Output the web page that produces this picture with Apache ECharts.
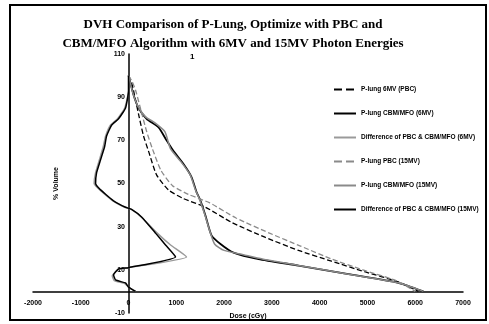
<!DOCTYPE html>
<html>
<head>
<meta charset="utf-8">
<script src="https://cdn.jsdelivr.net/npm/echarts@6/dist/echarts.min.js"></script>
<style>
  html, body { margin: 0; padding: 0; background: #fff; }
  #chart { width: 489px; height: 324px; }
</style>
</head>
<body>
<div id="chart"></div>
<script>
// tick labels
var doseMin = -2000, doseMax = 7000, doseStep = 1000;
var volTickLabels = [-10, 10, 30, 50, 70, 90, 110];

// series values (dose in cGy, volume in %)
var pbc6Dose = [0, 60, 105, 210, 314, 418, 586, 837, 1150, 1610, 2155, 2866, 3556, 4247, 4958, 5648, 6067];
var pbc6Vol = [100, 97, 93, 82, 72, 65, 54, 47, 43, 39, 32, 25, 19, 14, 9, 4.4, 0];

var cbm6Dose = [0, 105, 210, 377, 628, 795, 941, 1150, 1318, 1423, 1506, 1611, 1736, 1924, 2197, 2720, 3556, 4602, 5648, 6171];
var cbm6Vol = [100, 91, 85, 80, 76, 70, 65, 59, 53, 46, 42, 35, 26, 22, 18, 15, 12, 8, 4, 0];

var diff6Dose = [0, 0, -80, -230, -380, -480, -530, -610, -690, -720, -650, -500, -330, -80, 60, 290, 600, 880, 1213, 0, -230, -340, -300, -80, 0, 150];
var diff6Vol = [100, 93, 85, 80, 77, 72, 67, 61, 55, 50, 48, 45, 42, 39, 38, 34, 27, 21.5, 16, 11, 10, 7.2, 5, 3.6, 2, 0];

var pbc15Dose = [0, 80, 150, 270, 380, 500, 680, 920, 1250, 1700, 2250, 2950, 3600, 4250, 4900, 5600, 6000];
var pbc15Vol = [100, 97, 93, 83, 74, 66, 56, 49, 45, 41, 34, 27, 21, 15, 10, 5, 0];

var cbm15Dose = [0, 90, 190, 350, 560, 760, 880, 1100, 1290, 1400, 1480, 1590, 1700, 1800, 2000, 2400, 2800, 3556, 4602, 5648, 6171];
var cbm15Vol = [100, 92, 86, 81, 78, 74, 66, 60, 54, 47, 43, 36, 28, 22, 19, 17, 15, 12, 8, 4, 0];

var diff15Dose = [0, 0, -63, -209, -356, -460, -502, -586, -669, -690, -628, -481, -314, -63, 63, 272, 565, 774, 983, 0, -209, -314, -272, -63, 0, 146];
var diff15Vol = [100, 93, 85, 80, 77, 72, 67, 61, 55, 50, 48, 45, 42, 39, 38, 34.5, 27, 21.5, 16, 11, 10.4, 7.6, 5.3, 3.9, 2, 0];

var names = [
    'P-lung 6MV (PBC)',
    'P-lung CBM/MFO (6MV)',
    'Difference of PBC & CBM/MFO (6MV)',
    'P-lung PBC (15MV)',
    'P-lung CBM/MFO (15MV)',
    'Difference of PBC & CBM/MFO (15MV)'
];

function zip(xs, ys) {
    return xs.map(function (x, i) { return [x, ys[i]]; });
}

function line(name, xs, ys, color, type, width, smooth) {
    return {
        name: name,
        type: 'line',
        data: zip(xs, ys),
        showSymbol: false,
        symbol: 'none',
        smooth: smooth,
        lineStyle: { color: color, type: type, width: width },
        itemStyle: { color: color }
    };
}

var myChart = echarts.init(document.getElementById('chart'));

var labelFont = { fontFamily: 'Liberation Sans', fontWeight: 'bold', fontSize: 7, color: '#000' };

var option = {
    backgroundColor: '#fff',
    animation: false,
    title: {
        text: 'DVH Comparison of P-Lung, Optimize with PBC and\nCBM/MFO Algorithm with 6MV and 15MV Photon Energies',
        left: 228,
        textAlign: 'center',
        top: 10,
        textStyle: {
            fontFamily: 'Liberation Serif',
            fontWeight: 'bold',
            fontSize: 13,
            lineHeight: 19,
            color: '#000'
        }
    },
    legend: {
        orient: 'vertical',
        left: 333,
        top: 86,
        padding: 0,
        itemWidth: 22,
        itemHeight: 8,
        itemGap: 17,
        itemStyle: { opacity: 0 },
        data: names,
        textStyle: { fontFamily: 'Liberation Sans', fontWeight: 'bold', fontSize: 6.5, color: '#000' }
    },
    grid: { left: 33, right: 26, top: 54, bottom: 11, outerBoundsMode: 'none' },
    xAxis: {
        type: 'value',
        min: doseMin,
        max: doseMax,
        interval: doseStep,
        name: 'Dose (cGy)',
        nameLocation: 'middle',
        nameGap: 0,
        nameTextStyle: labelFont,
        axisLine: { onZero: true, lineStyle: { color: '#000', width: 1.5 } },
        axisTick: { show: false },
        splitLine: { show: false },
        axisLabel: Object.assign({
            margin: -13,
            formatter: function (v) { return String(v); }
        }, labelFont)
    },
    yAxis: [{
        type: 'value',
        min: volTickLabels[0],
        max: volTickLabels[volTickLabels.length - 1],
        axisLine: { show: true, onZero: true, lineStyle: { color: '#000', width: 1.5 } },
        axisTick: { show: false },
        axisLabel: { show: false },
        splitLine: { show: false }
    }, {
        // label-only axis: ticks at -10, 10, ... 110
        type: 'value',
        position: 'left',
        offset: -97,
        min: 0,
        max: volTickLabels[volTickLabels.length - 1] - volTickLabels[0],
        interval: volTickLabels[1] - volTickLabels[0],
        name: '% Volume',
        nameLocation: 'middle',
        nameRotate: 90,
        nameGap: 70,
        nameTextStyle: labelFont,
        axisLine: { show: false },
        axisTick: { show: false },
        splitLine: { show: false },
        axisLabel: Object.assign({
            margin: 5,
            formatter: function (v) { return String(v + volTickLabels[0]); }
        }, labelFont)
    }],
    graphic: [{
        type: 'rect',
        shape: { x: 10, y: 5, width: 476, height: 315 },
        style: { fill: 'none', stroke: '#000', lineWidth: 2 }
    }, {
        type: 'text',
        left: 190,
        top: 53,
        style: { text: '1', fill: '#000', font: 'bold 8px Liberation Sans' }
    }],
    series: [
        line(names[0], pbc6Dose, pbc6Vol, '#000', 'dashed', 1.3, 0.2),
        line(names[1], cbm6Dose, cbm6Vol, '#000', 'solid', 1.8, 0.2),
        line(names[2], diff6Dose, diff6Vol, '#9a9a9a', 'solid', 1.5, 0.15),
        line(names[3], pbc15Dose, pbc15Vol, '#8a8a8a', 'dashed', 1.3, 0.2),
        line(names[4], cbm15Dose, cbm15Vol, '#8a8a8a', 'solid', 1.5, 0.2),
        line(names[5], diff15Dose, diff15Vol, '#000', 'solid', 1.5, 0.15)
    ]
};

myChart.setOption(option);
</script>
</body>
</html>
